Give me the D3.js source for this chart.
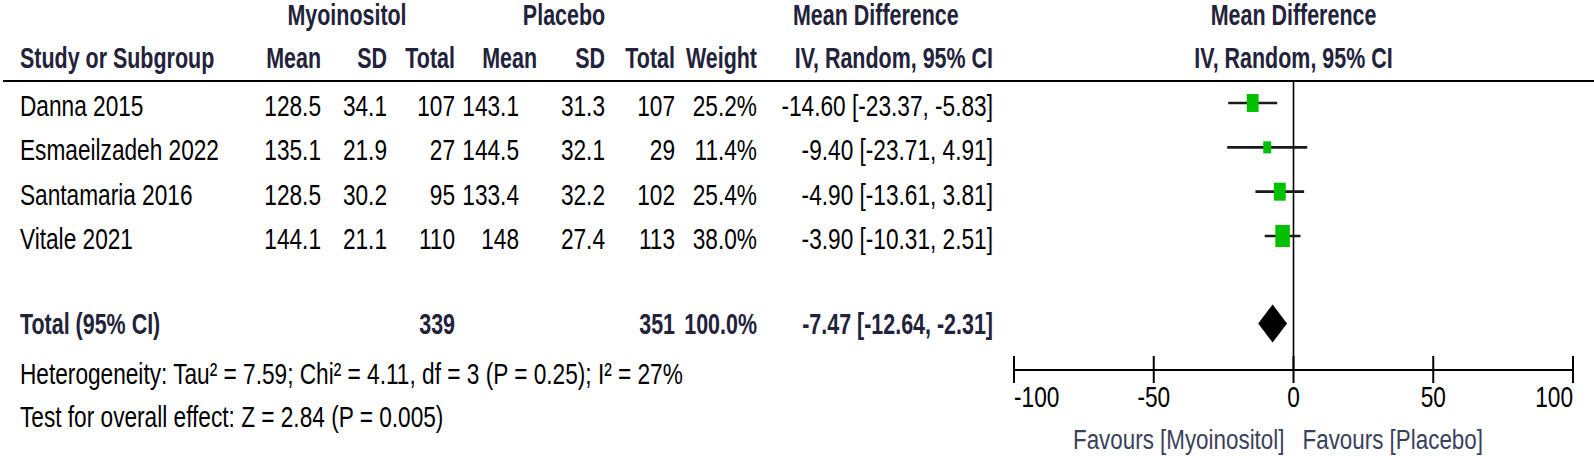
<!DOCTYPE html>
<html>
<head>
<meta charset="utf-8">
<script src="https://cdn.jsdelivr.net/npm/d3@7"></script>
<style>
  html, body { margin: 0; padding: 0; background: #ffffff; }
  svg { display: block; }
  text { font-family: "Liberation Sans", Arimo, Arial, sans-serif; }
</style>
</head>
<body>
<svg id="chart" width="1594" height="456"></svg>
<script>
// ---------------- DATA ----------------
const studies   = ["Danna 2015", "Esmaeilzadeh 2022", "Santamaria 2016", "Vitale 2021"];
const myoMean   = ["128.5", "135.1", "128.5", "144.1"];
const myoSD     = ["34.1", "21.9", "30.2", "21.1"];
const myoTotal  = [107, 27, 95, 110];
const plaMean   = ["143.1", "144.5", "133.4", "148"];
const plaSD     = ["31.3", "32.1", "32.2", "27.4"];
const plaTotal  = [107, 29, 102, 113];
const weights   = [25.2, 11.4, 25.4, 38.0];
const md        = [-14.60, -9.40, -4.90, -3.90];
const ciLow     = [-23.37, -23.71, -13.61, -10.31];
const ciHigh    = [-5.83, 4.91, 3.81, 2.51];

const totalLabel = "Total (95% CI)";
const totalMyo   = 339;
const totalPla   = 351;
const totalWeight = 100.0;
const totalMD    = -7.47;
const totalLow   = -12.64;
const totalHigh  = -2.31;

const heterogeneityText = "Heterogeneity: Tau\u00B2 = 7.59; Chi\u00B2 = 4.11, df = 3 (P = 0.25); I\u00B2 = 27%";
const overallText = "Test for overall effect: Z = 2.84 (P = 0.005)";

const axisTicks = [-100, -50, 0, 50, 100];
const favoursLeft = "Favours [Myoinositol]";
const favoursRight = "Favours [Placebo]";

// ---------------- LAYOUT ----------------
const svg = d3.select("#chart");
const headColor = "#22223a";
const favColor = "#3a3f5c";
const fs = 30;        // body font size
const sx = 0.755;     // condensed horizontal scale for body text
const hfs = 29;       // header font size
const hsx = 0.74;     // condensed horizontal scale for bold text

const x = d3.scaleLinear().domain([-100, 100]).range([1014, 1573]);
const y = d3.scaleLinear().domain([0, studies.length - 1]).range([103, 236]);
const totalY = 323.5;
const axisY = 370;
const headerLineY = 81;
const markerW = d3.scaleSqrt().domain([0, 38]).range([0, 14.5]);
const markerH = d3.scaleSqrt().domain([0, 38]).range([0, 22]);

const loc = d3.formatLocale({ decimal: ".", thousands: ",", grouping: [3], currency: ["", ""], minus: "-" });
const fmt2 = loc.format(".2f");
const fmtPct = loc.format(".1f");
const ciText = (m, l, h) => `${fmt2(m)} [${fmt2(l)}, ${fmt2(h)}]`;

// column right edges
const cols = {
  study: 20, myoMean: 321, myoSD: 387, myoTotal: 455,
  plaMean: 519, plaSD: 605, plaTotal: 675, weight: 757, ci: 993
};

function txt(g, xPos, yPos, s, anchor, opts = {}) {
  return g.append("text")
    .attr("transform", `translate(${xPos},${yPos}) scale(${opts.sx || sx},1)`)
    .attr("text-anchor", anchor)
    .attr("font-size", opts.size || fs)
    .attr("font-weight", opts.bold ? "bold" : "normal")
    .attr("fill", opts.fill || "#000")
    .text(s);
}

// ---- headers ----
const hdr = svg.append("g");
const hb = { bold: true, fill: headColor, size: hfs, sx: hsx };
const h1 = 25;
txt(hdr, 347, h1, "Myoinositol", "middle", hb);
txt(hdr, 564, h1, "Placebo", "middle", hb);
txt(hdr, 793, h1, "Mean Difference", "start", hb);
txt(hdr, x(0), h1, "Mean Difference", "middle", hb);

const h2 = 68;
txt(hdr, cols.study, h2, "Study or Subgroup", "start", hb);
txt(hdr, 321, h2, "Mean", "end", hb);
txt(hdr, 387, h2, "SD", "end", hb);
txt(hdr, 455, h2, "Total", "end", hb);
txt(hdr, 537, h2, "Mean", "end", hb);
txt(hdr, 605, h2, "SD", "end", hb);
txt(hdr, 675, h2, "Total", "end", hb);
txt(hdr, 757, h2, "Weight", "end", hb);
txt(hdr, cols.ci, h2, "IV, Random, 95% CI", "end", hb);
txt(hdr, x(0), h2, "IV, Random, 95% CI", "middle", hb);

// header rule
svg.append("line")
  .attr("x1", 3).attr("x2", 1594)
  .attr("y1", headerLineY).attr("y2", headerLineY)
  .attr("stroke", "#000").attr("stroke-width", 2.2);

// ---- study rows ----
const rows = svg.append("g");
studies.forEach((s, i) => {
  const by = y(i) + 13;
  txt(rows, cols.study, by, s, "start");
  txt(rows, cols.myoMean, by, myoMean[i], "end");
  txt(rows, cols.myoSD, by, myoSD[i], "end");
  txt(rows, cols.myoTotal, by, myoTotal[i], "end");
  txt(rows, cols.plaMean, by, plaMean[i], "end");
  txt(rows, cols.plaSD, by, plaSD[i], "end");
  txt(rows, cols.plaTotal, by, plaTotal[i], "end");
  txt(rows, cols.weight, by, fmtPct(weights[i]) + "%", "end");
  txt(rows, cols.ci, by, ciText(md[i], ciLow[i], ciHigh[i]), "end");
});

// ---- total row ----
const tb = totalY + 10.5;
const tot = svg.append("g");
txt(tot, cols.study, tb, totalLabel, "start", hb);
txt(tot, cols.myoTotal, tb, totalMyo, "end", hb);
txt(tot, cols.plaTotal, tb, totalPla, "end", hb);
txt(tot, cols.weight, tb, fmtPct(totalWeight) + "%", "end", hb);
txt(tot, cols.ci, tb, ciText(totalMD, totalLow, totalHigh), "end", hb);

txt(svg, cols.study, 384, heterogeneityText, "start");
txt(svg, cols.study, 427, overallText, "start");

// ---- forest plot ----
const plot = svg.append("g");
// zero line
plot.append("line")
  .attr("x1", x(0)).attr("x2", x(0))
  .attr("y1", headerLineY).attr("y2", axisY)
  .attr("stroke", "#000").attr("stroke-width", 1.6);

// CI lines
plot.selectAll("line.ci").data(studies).join("line")
  .attr("class", "ci")
  .attr("x1", (d, i) => x(ciLow[i])).attr("x2", (d, i) => x(ciHigh[i]))
  .attr("y1", (d, i) => y(i)).attr("y2", (d, i) => y(i))
  .attr("stroke", "#1a1a1a").attr("stroke-width", 2.6);

// markers
plot.selectAll("rect.mk").data(studies).join("rect")
  .attr("class", "mk")
  .attr("x", (d, i) => x(md[i]) - markerW(weights[i]) / 2)
  .attr("y", (d, i) => y(i) - markerH(weights[i]) / 2)
  .attr("width", (d, i) => markerW(weights[i]))
  .attr("height", (d, i) => markerH(weights[i]))
  .attr("fill", "#00c000");

// diamond
const dh = 19;
plot.append("path")
  .attr("d", `M${x(totalLow)},${totalY} L${x(totalMD)},${totalY - dh} L${x(totalHigh)},${totalY} L${x(totalMD)},${totalY + dh} Z`)
  .attr("fill", "#000");

// axis
const axisG = svg.append("g").attr("transform", `translate(0,${axisY})`);
axisG.append("line")
  .attr("x1", x(-100)).attr("x2", x(100))
  .attr("y1", 0).attr("y2", 0)
  .attr("stroke", "#000").attr("stroke-width", 2.2);
axisG.selectAll("line.tick").data(axisTicks).join("line")
  .attr("class", "tick")
  .attr("x1", d => x(d)).attr("x2", d => x(d))
  .attr("y1", -14).attr("y2", 13)
  .attr("stroke", "#000").attr("stroke-width", 2);
axisG.selectAll("text.tl").data(axisTicks).join("text")
  .attr("class", "tl")
  .attr("transform", d => `translate(${x(d)},37) scale(${sx},1)`)
  .attr("text-anchor", (d, i) => i === 0 ? "start" : (i === axisTicks.length - 1 ? "end" : "middle"))
  .attr("font-size", fs)
  .attr("fill", "#000")
  .text(d => d);

txt(svg, x(0) - 9, 449, favoursLeft, "end", { fill: favColor, size: 28, sx: 0.8 });
txt(svg, x(0) + 9, 449, favoursRight, "start", { fill: favColor, size: 28, sx: 0.8 });
</script>
</body>
</html>
